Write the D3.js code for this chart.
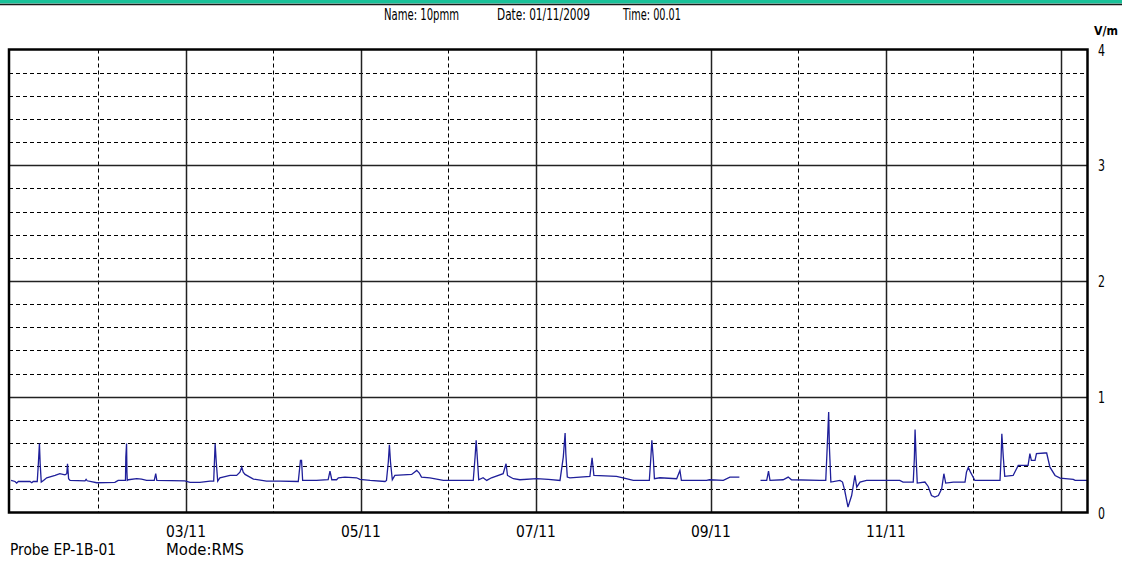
<!DOCTYPE html>
<html>
  <head>
    <meta charset="utf-8">
    <script src="https://d3js.org/d3.v7.min.js"></script>
    <style>
      body { margin: 0; background: #fff; }
      svg text { font-family: "Liberation Sans Narrow", "Arial Narrow", "DejaVu Sans Condensed", sans-serif; fill: #000; }
    </style>
  </head>
<body>
  <script type="text/javascript">
    "use strict";

    // hours since 01/11 00:00 and field strength (V/m); null = no data
    var hours = [0.02, 1.1, 1.55, 2.0, 5.2, 5.7, 6.1, 7.2, 7.5, 7.8, 8.0, 8.3, 8.9, 9.8, 12.1, 13.4, 14.8, 15.3, 15.5, 15.8,
      16.2, 20.3, 20.6, 20.9, 23.5, 28.5, 29.4, 31.4, 31.5, 31.7, 31.8, 31.9, 32.2, 34.5, 35.8, 37.2, 39.3, 39.7, 40.0,
      47.7, 49.1, 51.8, 54.6, 55.6, 55.8, 56.0, 56.3, 56.7, 57.3, 60.1, 61.9, 62.8, 63.3, 63.7, 64.2, 66.5, 70.1, 73.8,
      78.8, 79.4, 79.7, 80.0, 83.8, 87.0, 87.5, 88.0, 89.3, 89.8, 91.6, 94.8, 95.7, 98.5, 102.6, 103.0, 103.5, 103.8,
      104.1, 104.6, 105.3, 109.9, 111.3, 112.0, 112.6, 114.9, 118.6, 119.9, 126.8, 127.3, 127.6, 127.9, 128.3, 129.5,
      130.5, 131.8, 135.0, 135.8, 136.2, 137.8, 139.6, 144.2, 147.4, 150.6, 151.5, 152.0, 152.2, 152.6, 153.3, 158.8,
      159.4, 159.9, 166.1, 167.9, 170.7, 175.1, 175.5, 175.8, 176.2, 176.5, 178.0, 182.6, 183.5, 183.9, 190.8, 191.6,
      195.4, 197.2, 199.8, 202.7, 205.6, 207.3, 207.8, 208.2, 211.8, 213.2, 214.1, 221.9, 223.5, 223.9, 224.3, 224.5,
      224.9, 227.4, 228.1, 228.7, 229.6, 230.6, 231.5, 232.0, 232.9, 234.7, 243.8, 244.7, 247.5, 247.8, 248.0, 248.3,
      248.6, 250.7, 251.6, 252.5, 253.4, 254.4, 255.3, 255.9, 256.4, 258.5, 261.7, 262.1, 262.6, 263.2, 264.4, 271.3,
      271.6, 271.8, 272.2, 272.6, 274.9, 276.3, 279.0, 279.5, 279.9, 280.9, 281.3, 283.6, 284.1, 285.0, 286.4, 287.8,
      291.4, 291.9, 295.2];
    var vm = [0.277, 0.268, 0.254, 0.268, 0.268, 0.257, 0.268, 0.268, 0.421, 0.595, 0.421, 0.263, 0.277, 0.300, 0.320,
      0.335, 0.326, 0.335, 0.421, 0.292, 0.277, 0.274, 0.286, 0.274, 0.257, 0.260, 0.277, 0.277, 0.479, 0.595, 0.350,
      0.277, 0.283, 0.292, 0.289, 0.277, 0.277, 0.335, 0.277, 0.274, 0.260, 0.260, 0.271, 0.271, 0.436, 0.595, 0.436,
      0.271, 0.300, 0.320, 0.320, 0.349, 0.392, 0.349, 0.329, 0.289, 0.271, 0.271, 0.268, 0.450, 0.450, 0.277, 0.277,
      0.283, 0.358, 0.283, 0.283, 0.300, 0.306, 0.300, 0.286, 0.277, 0.268, 0.277, 0.436, 0.586, 0.436, 0.283, 0.320,
      0.329, 0.364, 0.341, 0.306, 0.300, 0.277, 0.277, 0.277, 0.479, 0.623, 0.479, 0.283, 0.300, 0.277, 0.300, 0.335,
      0.421, 0.320, 0.292, 0.283, 0.292, 0.286, 0.277, 0.479, 0.686, 0.508, 0.306, 0.300, 0.312, 0.473, 0.320, 0.312,
      0.300, 0.277, 0.277, 0.465, 0.623, 0.465, 0.292, 0.300, 0.292, 0.363, 0.277, 0.277, 0.283, 0.277, 0.306, 0.306,
      null, 0.277, 0.277, 0.357, 0.277, 0.283, 0.306, 0.283, 0.277, 0.277, 0.566, 0.869, 0.566, 0.263, 0.277, 0.263,
      0.190, 0.046, 0.147, 0.320, 0.219, 0.263, 0.277, 0.277, 0.263, 0.263, 0.465, 0.716, 0.465, 0.254, 0.263, 0.225,
      0.147, 0.133, 0.147, 0.205, 0.335, 0.254, 0.263, 0.263, 0.349, 0.389, 0.349, 0.277, 0.277, 0.479, 0.681, 0.479,
      0.312, 0.320, 0.407, 0.407, 0.508, 0.450, 0.450, 0.508, 0.514, 0.514, 0.392, 0.320, 0.297, 0.286, 0.277, 0.277];

    var yTicks = [0, 1, 2, 3, 4];
    var dayTicks = [48, 96, 144, 192, 240];
    var dayLabels = ["03/11", "05/11", "07/11", "09/11", "11/11"];
    var titleParts = ["Name: 10pmm", "Date: 01/11/2009", "Time: 00.01"];

    (function() {
    var width = 1122, height = 562;
    var pl = 9, pr = 1087.5, pt = 49.5, pb = 512.5;

    var svg = d3.select("body").append("svg")
        .attr("width", width)
        .attr("height", height);

    // green title strip
    svg.append("rect").attr("x", 0).attr("y", 0).attr("width", width).attr("height", 3.5).attr("fill", "#19c199");
    svg.append("line").attr("x1", 0).attr("x2", width).attr("y1", 4.5).attr("y2", 4.5)
        .attr("stroke", "#1a1a1a").attr("stroke-width", 1.5);

    var x = d3.scaleLinear().domain([-0.55, 295.3]).range([pl, pr]);
    var y = d3.scaleLinear().domain([0, 4]).range([pb, pt]);

    var grid = svg.append("g").attr("class", "grid");

    // dashed minor horizontals every 0.2
    var minorY = d3.range(0.2, 4, 0.2).filter(function(v) { return Math.abs(v - Math.round(v)) > 0.01; });
    grid.selectAll("line.hmin").data(minorY).enter().append("line")
        .attr("x1", pl).attr("x2", pr)
        .attr("y1", function(d) { return Math.round(y(d)) + 0.5; })
        .attr("y2", function(d) { return Math.round(y(d)) + 0.5; })
        .attr("stroke", "#000").attr("stroke-dasharray", "4,3");

    // dashed verticals on odd days
    var oddDays = d3.range(24, 295, 48);
    grid.selectAll("line.vmin").data(oddDays).enter().append("line")
        .attr("y1", pt).attr("y2", pb)
        .attr("x1", function(d) { return Math.round(x(d)) + 0.5; })
        .attr("x2", function(d) { return Math.round(x(d)) + 0.5; })
        .attr("stroke", "#000").attr("stroke-dasharray", "4,3");

    // solid grid lines
    grid.selectAll("line.hmaj").data([1, 2, 3]).enter().append("line")
        .attr("x1", pl).attr("x2", pr)
        .attr("y1", function(d) { return Math.round(y(d)) + 0.5; })
        .attr("y2", function(d) { return Math.round(y(d)) + 0.5; })
        .attr("stroke", "#222").attr("stroke-width", 1.5);
    grid.selectAll("line.vmaj").data(d3.range(48, 295, 48)).enter().append("line")
        .attr("y1", pt).attr("y2", pb)
        .attr("x1", function(d) { return Math.round(x(d)) + 0.5; })
        .attr("x2", function(d) { return Math.round(x(d)) + 0.5; })
        .attr("stroke", "#222").attr("stroke-width", 1.5);

    // trace
    var pts = hours.map(function(h, i) { return [h, vm[i]]; });
    var line = d3.line()
        .defined(function(d) { return d[1] !== null; })
        .x(function(d) { return x(d[0]); })
        .y(function(d) { return y(d[1]); });
    svg.append("path").datum(pts)
        .attr("d", line)
        .attr("fill", "none")
        .attr("stroke", "#1f1f9a")
        .attr("stroke-width", 1.3);

    // frame
    svg.append("rect")
        .attr("x", pl).attr("y", pt)
        .attr("width", pr - pl).attr("height", pb - pt)
        .attr("fill", "none").attr("stroke", "#000").attr("stroke-width", 2.5);

    // right value labels
    svg.selectAll("text.ytick").data(yTicks).enter().append("text")
        .attr("x", 1098).attr("y", function(d) { return y(d) + 6; })
        .attr("textLength", 7).attr("lengthAdjust", "spacingAndGlyphs")
        .style("font-size", "16px")
        .text(function(d) { return d; });

    svg.append("text")
        .attr("x", 1094).attr("y", 35)
        .attr("textLength", 24).attr("lengthAdjust", "spacingAndGlyphs")
        .style("font-family", "'DejaVu Sans', sans-serif")
        .style("font-weight", "bold").style("font-size", "12px")
        .text("V/m");

    // title
    var titleX = [384, 497, 623], titleW = [75, 93, 58];
    svg.selectAll("text.title").data(titleParts).enter().append("text")
        .attr("x", function(d, i) { return titleX[i]; }).attr("y", 20)
        .attr("textLength", function(d, i) { return titleW[i]; })
        .attr("lengthAdjust", "spacingAndGlyphs")
        .style("font-size", "15px")
        .text(function(d) { return d; });

    // day labels
    svg.selectAll("text.day").data(dayTicks).enter().append("text")
        .attr("x", function(d) { return x(d) - 20; }).attr("y", 537)
        .attr("textLength", 40).attr("lengthAdjust", "spacingAndGlyphs")
        .style("font-size", "15px")
        .text(function(d, i) { return dayLabels[i]; });

    svg.append("text").attr("x", 10).attr("y", 555)
        .attr("textLength", 106).attr("lengthAdjust", "spacingAndGlyphs")
        .style("font-size", "15px").text("Probe EP-1B-01");
    svg.append("text").attr("x", 166).attr("y", 555)
        .attr("textLength", 78).attr("lengthAdjust", "spacingAndGlyphs")
        .style("font-size", "15px").text("Mode:RMS");
    })();
  </script>
</body>
</html>
